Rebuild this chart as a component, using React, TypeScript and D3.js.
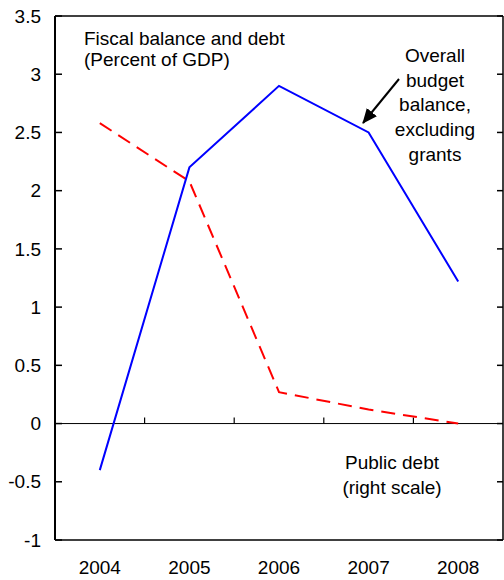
import React from "react";
import * as d3 from "d3";

const years = ["2004", "2005", "2006", "2007", "2008"];
const balance = [-0.4, 2.2, 2.9, 2.5, 1.22];
const debt = [2.58, 2.08, 0.27, 0.12, 0.0];
const yTicks = [-1, -0.5, 0, 0.5, 1, 1.5, 2, 2.5, 3, 3.5];

export default function App() {
  const W = 504, H = 580;
  const left = 55, right = 503, top = 16, bottom = 540;
  const x = d3.scaleBand<string>().domain(years).range([left, right]);
  const y = d3.scaleLinear().domain([-1, 3.5]).range([bottom, top]);
  const yR = d3.scaleLinear().domain([-1, 3.5]).range([bottom, top]);
  const cx = (d: string) => (x(d) as number) + x.bandwidth() / 2;
  const lineB = d3.line<number>().x((_, i) => cx(years[i])).y((d) => y(d));
  const lineD = d3.line<number>().x((_, i) => cx(years[i])).y((d) => yR(d));
  const font = "Arial, 'Liberation Sans', sans-serif";
  const fs = 19;
  const boundaries = years.map((d) => x(d) as number).concat([right]);
  return (
    <svg width={W} height={H} style={{ position: "absolute", left: 0, top: 0 }} fontFamily={font}>
      <defs>
        <marker id="ah" markerWidth="15" markerHeight="13" refX="14" refY="6.5" orient="auto" markerUnits="userSpaceOnUse">
          <path d="M0,0 L15,6.5 L0,13 z" fill="#000" />
        </marker>
      </defs>
      <rect x={0} y={0} width={W} height={H} fill="#fff" />
      <line x1={left} x2={right} y1={top} y2={top} stroke="#000" strokeWidth={1.5} />
      <line x1={left} x2={right} y1={bottom} y2={bottom} stroke="#000" strokeWidth={1.5} />
      <line x1={right} x2={right} y1={top} y2={bottom} stroke="#000" strokeWidth={1.5} />
      <line x1={left} x2={left} y1={top} y2={bottom} stroke="#000" strokeWidth={2} />
      {yTicks.map((t) => (
        <g key={t}>
          <line x1={left} x2={left + 7} y1={y(t)} y2={y(t)} stroke="#000" strokeWidth={1.5} />
          <line x1={right - 6} x2={right} y1={yR(t)} y2={yR(t)} stroke="#000" strokeWidth={1.5} />
          <text x={41} y={y(t)} dy="0.35em" textAnchor="end" fontSize={fs}>{t}</text>
        </g>
      ))}
      <line x1={left} x2={right} y1={y(0)} y2={y(0)} stroke="#000" strokeWidth={1} />
      {boundaries.slice(1, -1).map((b, i) => (
        <line key={i} x1={b} x2={b} y1={y(0)} y2={y(0) - 6} stroke="#000" strokeWidth={1.2} />
      ))}
      {years.map((yr) => (
        <text key={yr} x={cx(yr)} y={574} textAnchor="middle" fontSize={fs}>{yr}</text>
      ))}
      <path d={lineD(debt) || ""} fill="none" stroke="#ff0000" strokeWidth={2} strokeDasharray="14,8" />
      <path d={lineB(balance) || ""} fill="none" stroke="#0000ff" strokeWidth={2} />
      <text x={84} y={45} fontSize={fs}>Fiscal balance and debt</text>
      <text x={84} y={66} fontSize={fs}>(Percent of GDP)</text>
      {["Overall", "budget", "balance,", "excluding", "grants"].map((s, i) => (
        <text key={s} x={435} y={62 + i * 24.7} textAnchor="middle" fontSize={fs}>{s}</text>
      ))}
      <line x1={399} y1={79} x2={363} y2={123} stroke="#000" strokeWidth={2} markerEnd="url(#ah)" />
      <text x={392} y={469} textAnchor="middle" fontSize={fs}>Public debt</text>
      <text x={392} y={494} textAnchor="middle" fontSize={fs}>(right scale)</text>
    </svg>
  );
}
